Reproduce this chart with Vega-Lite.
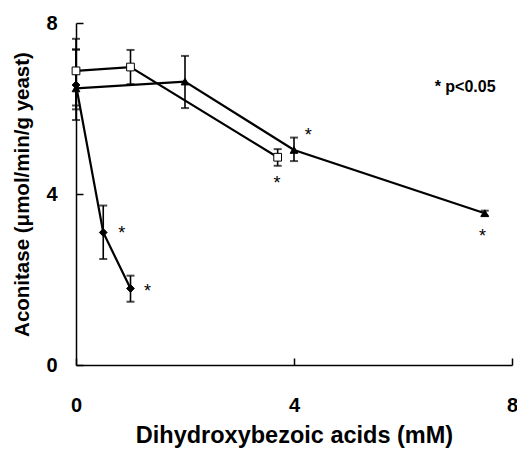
{
  "$schema": "https://vega.github.io/schema/vega-lite/v6.json",
  "width": 436,
  "height": 342,
  "autosize": {"type": "none"},
  "padding": {"left": 76, "top": 23, "right": 5, "bottom": 88},
  "background": "white",
  "config": {
    "view": {"stroke": null},
    "font": "Liberation Sans",
    "axis": {
      "grid": false,
      "domainColor": "black",
      "domainWidth": 1.5,
      "tickColor": "black",
      "tickWidth": 1.5,
      "tickSize": -7,
      "labelFlush": false,
      "labelFont": "Liberation Sans",
      "labelFontWeight": "bold",
      "labelFontSize": 20,
      "labelColor": "black",
      "titleFont": "Liberation Sans",
      "titleFontWeight": "bold",
      "titleColor": "black"
    }
  },
  "datasets": {
    "pts": [
      {"series": "square", "x": 0, "y": 6.88, "lo": 6.07, "hi": 7.63},
      {"series": "square", "x": 1, "y": 6.97, "lo": 6.57, "hi": 7.37},
      {"series": "square", "x": 3.7, "y": 4.86, "lo": 4.66, "hi": 5.05},
      {"series": "triangle", "x": 0, "y": 6.47, "lo": 5.73, "hi": 7.38},
      {"series": "triangle", "x": 2, "y": 6.63, "lo": 6.01, "hi": 7.23},
      {"series": "triangle", "x": 4, "y": 5.03, "lo": 4.77, "hi": 5.32},
      {"series": "triangle", "x": 7.5, "y": 3.55, "lo": 3.49, "hi": 3.61},
      {"series": "diamond", "x": 0, "y": 6.55, "lo": 5.98, "hi": 7.38},
      {"series": "diamond", "x": 0.5, "y": 3.1, "lo": 2.48, "hi": 3.73},
      {"series": "diamond", "x": 1, "y": 1.79, "lo": 1.48, "hi": 2.09}
    ],
    "stars": [
      {"x": 0.84, "y": 3.18, "label": "*"},
      {"x": 1.31, "y": 1.82, "label": "*"},
      {"x": 3.69, "y": 4.34, "label": "*"},
      {"x": 4.26, "y": 5.47, "label": "*"},
      {"x": 7.46, "y": 3.12, "label": "*"}
    ],
    "note": [
      {"x": 7.14, "y": 6.51, "label": "* p<0.05"}
    ]
  },
  "layer": [
    {
      "data": {"name": "pts"},
      "mark": {"type": "rule", "color": "black", "strokeWidth": 1.6},
      "encoding": {
        "x": {"field": "x", "type": "quantitative", "scale": {"domain": [0, 8]},
          "axis": {"values": [0, 4, 8], "title": "Dihydroxybezoic acids (mM)", "titleFontSize": 23.5, "labelPadding": 37, "titlePadding": 8}},
        "y": {"field": "lo", "type": "quantitative", "scale": {"domain": [0, 8]},
          "axis": {"values": [0, 4, 8], "title": "Aconitase (\u03bcmol/min/g yeast)", "titleFontSize": 20.5, "labelPadding": 26, "titlePadding": 13}},
        "y2": {"field": "hi"}
      }
    },
    {
      "data": {"name": "pts"},
      "mark": {"type": "tick", "orient": "horizontal", "color": "black", "size": 8, "thickness": 2},
      "encoding": {
        "x": {"field": "x", "type": "quantitative"},
        "y": {"field": "lo", "type": "quantitative"}
      }
    },
    {
      "data": {"name": "pts"},
      "mark": {"type": "tick", "orient": "horizontal", "color": "black", "size": 8, "thickness": 2},
      "encoding": {
        "x": {"field": "x", "type": "quantitative"},
        "y": {"field": "hi", "type": "quantitative"}
      }
    },
    {
      "data": {"name": "pts"},
      "mark": {"type": "line", "color": "black", "strokeWidth": 2.2},
      "encoding": {
        "x": {"field": "x", "type": "quantitative"},
        "y": {"field": "y", "type": "quantitative"},
        "detail": {"field": "series"}
      }
    },
    {
      "data": {"name": "pts"},
      "mark": {"type": "point", "filled": true, "stroke": "black", "strokeWidth": 1, "size": 60, "opacity": 1},
      "encoding": {
        "x": {"field": "x", "type": "quantitative"},
        "y": {"field": "y", "type": "quantitative"},
        "shape": {"field": "series", "type": "nominal", "scale": {"domain": ["square", "triangle", "diamond"], "range": ["square", "triangle-up", "diamond"]}, "legend": null},
        "fill": {"field": "series", "type": "nominal", "scale": {"domain": ["square", "triangle", "diamond"], "range": ["white", "black", "black"]}, "legend": null}
      }
    },
    {
      "data": {"name": "stars"},
      "mark": {"type": "text", "fontSize": 18, "color": "black", "baseline": "middle", "align": "center", "dy": 5},
      "encoding": {
        "x": {"field": "x", "type": "quantitative"},
        "y": {"field": "y", "type": "quantitative"},
        "text": {"field": "label"}
      }
    },
    {
      "data": {"name": "note"},
      "mark": {"type": "text", "fontSize": 16, "fontWeight": "bold", "color": "black", "baseline": "middle", "align": "center"},
      "encoding": {
        "x": {"field": "x", "type": "quantitative"},
        "y": {"field": "y", "type": "quantitative"},
        "text": {"field": "label"}
      }
    }
  ]
}
